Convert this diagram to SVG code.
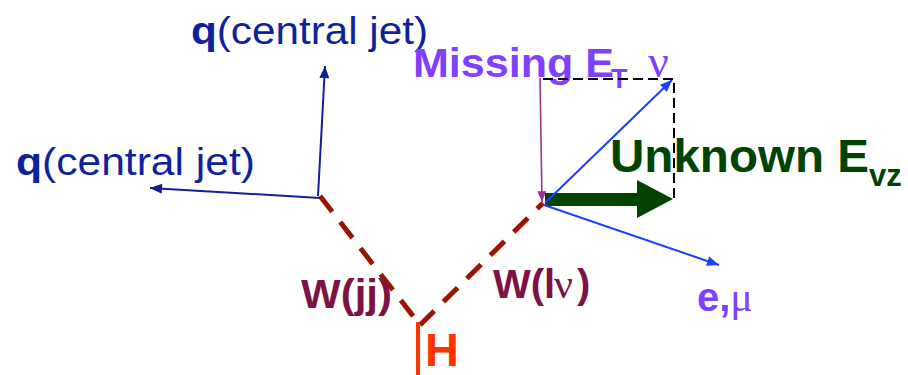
<svg xmlns="http://www.w3.org/2000/svg" width="908" height="375" viewBox="0 0 908 375">
<style>
.sans{font-family:"Liberation Sans",Arial,sans-serif}
.serif{font-family:"Liberation Serif","Times New Roman",serif}
.b{font-weight:bold}
.jet{fill:#0e219e}
.purple{fill:#8040ff}
.maroon{fill:#7d1245}
.green{fill:#004400}
.wdash{stroke:#9a1500;stroke-width:5;stroke-dasharray:20 13;fill:none}
</style>
<defs>
<marker id="ahDB" viewBox="0 0 12 10" refX="12" refY="5" markerWidth="13" markerHeight="10" markerUnits="userSpaceOnUse" orient="auto"><path d="M0,0 L12,5 L0,10 z" fill="#10209a"/></marker>
<marker id="ahB" viewBox="0 0 12 10" refX="12" refY="5" markerWidth="13" markerHeight="10" markerUnits="userSpaceOnUse" orient="auto"><path d="M0,0 L12,5 L0,10 z" fill="#1a40ff"/></marker>
<marker id="ahP" viewBox="0 0 12 10" refX="12" refY="5" markerWidth="12" markerHeight="9" markerUnits="userSpaceOnUse" orient="auto"><path d="M0,0 L12,5 L0,10 z" fill="#993399"/></marker>
</defs>
<g id="connectors">
<line x1="320" y1="196" x2="420" y2="325" class="wdash"/>
<line x1="420" y1="325" x2="543" y2="203" class="wdash"/>
<line x1="418" y1="322" x2="418" y2="375" stroke="#ff3300" stroke-width="4"/>
<line x1="318" y1="196" x2="325" y2="66" stroke="#10209a" stroke-width="2" marker-end="url(#ahDB)"/>
<line x1="320" y1="198" x2="150" y2="188" stroke="#10209a" stroke-width="2" marker-end="url(#ahDB)"/>
<line x1="540" y1="78" x2="542" y2="202" stroke="#993399" stroke-width="1.6" marker-end="url(#ahP)"/>
<path d="M545,193 L637,193 L637,180 L673,199 L637,218 L637,206 L545,206 Z" fill="#004400"/>
<line x1="545" y1="203" x2="672" y2="80" stroke="#1a40ff" stroke-width="2" marker-end="url(#ahB)"/>
<line x1="544" y1="205" x2="719" y2="265" stroke="#1a40ff" stroke-width="2" marker-end="url(#ahB)"/>
</g>
<g id="label-q-top"><text class="sans jet" x="191" y="44" font-size="38" textLength="237" lengthAdjust="spacingAndGlyphs"><tspan class="b">q</tspan>(central jet)</text></g>
<g id="label-q-left"><text class="sans jet" x="16" y="175" font-size="38" textLength="239" lengthAdjust="spacingAndGlyphs"><tspan class="b">q</tspan>(central jet)</text></g>
<g id="label-missing">
<text class="sans b purple" x="413" y="77" font-size="40" textLength="201" lengthAdjust="spacingAndGlyphs">Missing E</text>
<text class="sans b purple" x="611" y="88" font-size="27">T</text>
<text class="serif purple" x="648" y="77" font-size="46">ν</text>
</g>
<g id="label-unknown">
<text class="sans b green" x="610" y="172" font-size="46" textLength="259" lengthAdjust="spacingAndGlyphs">Unknown E</text>
<text class="sans b green" x="869" y="186" font-size="31">vz</text>
</g>
<g id="label-wjj"><text class="sans b maroon" x="301" y="308" font-size="40" textLength="91" lengthAdjust="spacingAndGlyphs">W(jj)</text></g>
<g id="label-wlv">
<text class="sans b maroon" x="493" y="298" font-size="40">W(l</text>
<text class="serif maroon" x="554" y="298" font-size="42">ν</text>
<text class="sans b maroon" x="577" y="298" font-size="40">)</text>
</g>
<g id="label-h"><text class="sans b" fill="#ff3300" x="425" y="366" font-size="47">H</text></g>
<g id="label-emu"><text class="sans b purple" x="697" y="311" font-size="40">e,<tspan class="serif" font-weight="normal" font-size="42">μ</tspan></text></g>
<g id="box">
<path d="M543,79 L674,79 L674,203" fill="none" stroke="#000" stroke-width="2" stroke-dasharray="10 5"/>
</g>
</svg>
